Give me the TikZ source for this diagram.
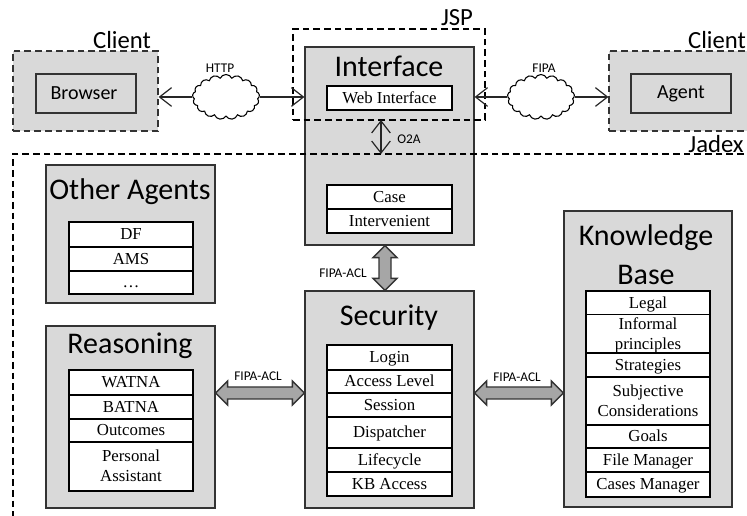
\documentclass[tikz,border=0pt]{standalone}
\usepackage{fontspec}
\setmainfont{Liberation Serif}
\newfontfamily\calfont{Carlito}
\usetikzlibrary{arrows.meta,calc,shapes.symbols}
\def\px{0.75pt}
\definecolor{panelgrey}{HTML}{D9D9D9}
\definecolor{arrowgrey}{HTML}{A6A6A6}
\definecolor{edgegrey}{HTML}{333333}
\tikzset{
  panel/.style={draw=edgegrey,fill=panelgrey,line width=0.9pt,inner sep=0pt},
  clientbox/.style={draw=edgegrey,fill=panelgrey,line width=0.9pt,inner sep=0pt,dash pattern=on 5pt off 3pt},
  rowbox/.style={draw=black,fill=white,line width=0.8pt,inner sep=0pt,align=center,font=\fontsize{12.6}{15}\selectfont},
  innerbox/.style={draw=edgegrey,fill=none,line width=0.9pt,inner sep=0pt,font=\calfont\fontsize{15}{18}\selectfont},
  title/.style={inner sep=0pt,font=\calfont\fontsize{22.5}{24}\selectfont},
  zone/.style={inner sep=0pt,font=\calfont\fontsize{18.5}{20}\selectfont},
  small/.style={inner sep=0pt,font=\calfont\fontsize{10}{12}\selectfont,text=black},
  zoneline/.style={draw=black,line width=0.9pt,dash pattern=on 5pt off 3pt},
  link/.style={draw=black!85,line width=1pt,{Straight Barb[length=9pt,width=14pt,line width=0.9pt]}-{Straight Barb[length=9pt,width=14pt,line width=0.9pt]}},
  halflink/.style={draw=black!85,line width=1pt,-{Straight Barb[length=9pt,width=14pt,line width=0.9pt]}},
  cloudy/.style={cloud,cloud puffs=17,cloud puff arc=130,aspect=1.5,draw=black,fill=white,line width=0.8pt,inner sep=0pt,minimum width=67*\px,minimum height=45*\px},
  block/.style={draw=edgegrey,fill=arrowgrey,line width=1pt,line join=miter}
}
\newcommand{\rowstrut}{\rule[-3.6pt]{0pt}{14.8pt}}
\newcommand{\boxat}[7]{\node[#1,minimum width={(#4-#2)*\px},minimum height={(#5-#3)*\px}] (#6) at ({(#2+#4)/2},{(#3+#5)/2}) {#7};}
\newcommand{\rowat}[6]{\boxat{rowbox}{#1}{#2}{#3}{#4}{#5}{\rowstrut #6\rowstrut}}
\newcommand{\harrow}[2]{\draw[block] (#1) -- ($(#1)+(12,-12)$) -- ($(#1)+(12,-6)$) -- ($(#2)+(-12,-6)$) -- ($(#2)+(-12,-12)$) -- (#2) -- ($(#2)+(-12,12)$) -- ($(#2)+(-12,6)$) -- ($(#1)+(12,6)$) -- ($(#1)+(12,12)$) -- cycle;}
\newcommand{\varrow}[2]{\draw[block] (#1) -- ($(#1)+(-12,12)$) -- ($(#1)+(-6,12)$) -- ($(#2)+(-6,-12)$) -- ($(#2)+(-12,-12)$) -- (#2) -- ($(#2)+(12,-12)$) -- ($(#2)+(6,-12)$) -- ($(#1)+(6,12)$) -- ($(#1)+(12,12)$) -- cycle;}
\begin{document}
\begin{tikzpicture}[x=0.75pt,y=-0.75pt]
\useasboundingbox (0,0) rectangle (747,516);
% client boxes
\boxat{clientbox}{13}{51}{158}{131}{clientL}{}
\boxat{clientbox}{609}{51}{765}{131}{clientR}{}
\boxat{innerbox}{36}{74}{136}{113}{browser}{\hspace*{-3pt}Browser}
\boxat{innerbox}{631}{74}{731}{113}{agent}{Agent}
% panels
\boxat{panel}{305}{47}{474}{245}{iface}{}
\boxat{panel}{46}{165}{215}{303}{others}{}
\boxat{panel}{46}{326}{215}{508}{reason}{}
\boxat{panel}{305}{291}{474}{508}{secur}{}
\boxat{panel}{564}{211}{732}{507}{kb}{}
% titles
\node[title] (tIface) at (389,66) {Interface};
\node[title] (tOthers) at (130,192) {Other Agents};
\node[title] (tReason) at (130,346) {Reasoning};
\node[title] (tSecur) at (389,318) {Security};
\node[title] (tKb1) at (646,238) {Knowledge};
\node[title] (tKb2) at (646,275) {Base};
% rows
\rowat{327}{86}{452}{110}{rWeb}{Web Interface}
\rowat{327}{185}{452}{209}{rCase}{Case}
\rowat{327}{209}{452}{233}{rInter}{Intervenient}
\rowat{69}{222}{193}{247}{rDF}{DF}
\rowat{69}{247}{193}{271}{rAMS}{AMS}
\rowat{69}{271}{193}{294}{rDots}{…}
\rowat{69}{370}{193}{395}{rWatna}{WATNA}
\rowat{69}{395}{193}{419}{rBatna}{BATNA}
\rowat{69}{419}{193}{442}{rOut}{Outcomes}
\rowat{69}{442}{193}{491}{rPers}{Personal\\Assistant}
\rowat{327}{345}{452}{370}{rLogin}{Login}
\rowat{327}{370}{452}{393}{rAccess}{Access Level}
\rowat{327}{393}{452}{417}{rSess}{Session}
\rowat{327}{417}{452}{448}{rDisp}{Dispatcher}
\rowat{327}{448}{452}{472}{rLife}{Lifecycle}
\rowat{327}{472}{452}{496}{rKbA}{KB Access}
\rowat{586}{291}{710}{315}{rLegal}{Legal}
\rowat{586}{315}{710}{353}{rInf}{Informal\\principles}
\rowat{586}{353}{710}{377}{rStrat}{Strategies}
\rowat{586}{377}{710}{425}{rSubj}{Subjective\\Considerations}
\rowat{586}{425}{710}{448}{rGoals}{Goals}
\rowat{586}{448}{710}{472}{rFile}{File Manager}
\rowat{586}{472}{710}{497}{rCases}{Cases Manager}
% dashed zones
\boxat{zoneline}{293}{29}{485}{120}{jsp}{}
\draw[zoneline] (765,154) -- (13,154) -- (13,530);
% zone labels
\node[zone] (lClientL) at (122,40) {Client};
\node[zone] (lClientR) at (717,40) {Client};
\node[zone] (lJsp) at (457,18) {JSP};
\node[zone] (lJadex) at (716,144) {Jadex};
% clouds and links
\node[cloudy] (cHttp) at (226,97) {};
\node[cloudy] (cFipa) at (541,97) {};
\draw[halflink] (cHttp.west) -- (clientL.east |- cHttp.west);
\draw[halflink] (cHttp.east) -- (iface.west |- cHttp.east);
\draw[halflink] (cFipa.west) -- (iface.east |- cFipa.west);
\draw[halflink] (cFipa.east) -- (clientR.west |- cFipa.east);
\node[small] (lHttp) at (220,68) {HTTP};
\node[small] (lFipa) at (544,68) {FIPA};
\coordinate (o2aT) at (381,120);
\coordinate (o2aB) at (381,154);
\draw[link] (o2aT) -- (o2aB);
\node[small] (lO2a) at (409,139) {O2A};
% block arrows
\coordinate (bvT) at (iface.south -| 385,0);
\coordinate (bvB) at (secur.north -| 385,0);
\varrow{bvT}{bvB}
\coordinate (bhL) at (reason.east |- 0,393);
\coordinate (bhM) at (secur.west |- 0,393);
\harrow{bhL}{bhM}
\coordinate (bhN) at (secur.east |- 0,393);
\coordinate (bhR) at (kb.west |- 0,393);
\harrow{bhN}{bhR}
\node[small] (lAcl1) at (343,273) {FIPA-ACL};
\node[small] (lAcl2) at (258,376) {FIPA-ACL};
\node[small] (lAcl3) at (517,377) {FIPA-ACL};
\end{tikzpicture}
\end{document}
